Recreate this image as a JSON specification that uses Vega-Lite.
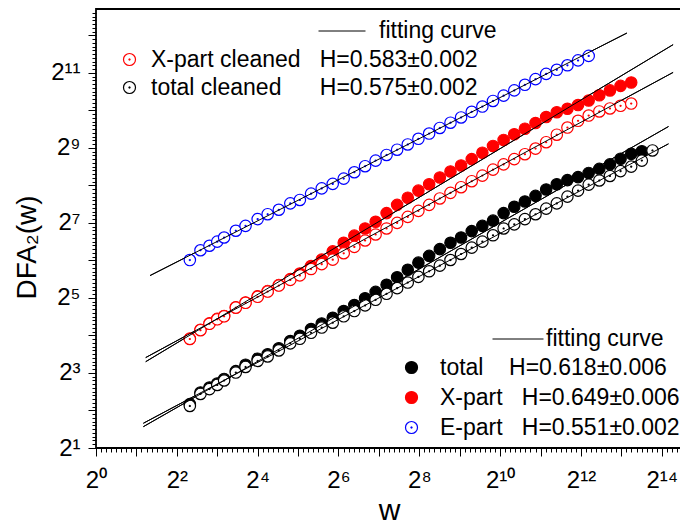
{
  "$schema": "https://vega.github.io/schema/vega-lite/v6.json",
  "width": 586,
  "height": 439,
  "autosize": {"type": "none"},
  "padding": {"left": 96, "top": 9, "right": 0, "bottom": 77},
  "background": "white",
  "config": {
    "font": "Liberation Sans",
    "view": {"stroke": "black", "strokeWidth": 1.8},
    "axis": {"labelFont": "Liberation Sans", "titleFont": "Liberation Sans", "labelColor": "black", "titleColor": "black", "tickColor": "black", "tickWidth": 1, "grid": false, "domain": false, "labelOverlap": false, "labelFlush": false, "labelBound": false, "titleFontWeight": "normal"},
    "legend": {"labelFont": "Liberation Sans", "labelFontSize": 23, "labelColor": "black", "labelLimit": 600, "padding": 0, "direction": "vertical"}
  },
  "datasets": {
    "points": [
      {"series": "total", "w": 5, "F": 4.50}, {"series": "total", "w": 6, "F": 5.58}, {"series": "total", "w": 7, "F": 6.11}, {"series": "total", "w": 8, "F": 6.59}, {"series": "total", "w": 9, "F": 7.16}, {"series": "total", "w": 11, "F": 8.28}, {"series": "total", "w": 13, "F": 9.32}, {"series": "total", "w": 16, "F": 10.41}, {"series": "total", "w": 19, "F": 11.31}, {"series": "total", "w": 23, "F": 12.64}, {"series": "total", "w": 28, "F": 14.42}, {"series": "total", "w": 33, "F": 15.89}, {"series": "total", "w": 40, "F": 18.00}, {"series": "total", "w": 48, "F": 19.97}, {"series": "total", "w": 58, "F": 22.16}, {"series": "total", "w": 70, "F": 25.11}, {"series": "total", "w": 84, "F": 28.05}, {"series": "total", "w": 101, "F": 31.78}, {"series": "total", "w": 121, "F": 35.75}, {"series": "total", "w": 146, "F": 40.79}, {"series": "total", "w": 175, "F": 46.85}, {"series": "total", "w": 210, "F": 53.82}, {"series": "total", "w": 252, "F": 61.39}, {"series": "total", "w": 303, "F": 69.55}, {"series": "total", "w": 364, "F": 78.79}, {"series": "total", "w": 437, "F": 88.65}, {"series": "total", "w": 524, "F": 97.68}, {"series": "total", "w": 629, "F": 109.9}, {"series": "total", "w": 755, "F": 121.1}, {"series": "total", "w": 906, "F": 133.4}, {"series": "total", "w": 1087, "F": 153.3}, {"series": "total", "w": 1305, "F": 172.4}, {"series": "total", "w": 1566, "F": 190.0}, {"series": "total", "w": 1879, "F": 210.8}, {"series": "total", "w": 2255, "F": 237.2}, {"series": "total", "w": 2706, "F": 261.4}, {"series": "total", "w": 3247, "F": 282.1}, {"series": "total", "w": 3897, "F": 298.2}, {"series": "total", "w": 4676, "F": 321.8}, {"series": "total", "w": 5611, "F": 347.3}, {"series": "total", "w": 6734, "F": 377.4}, {"series": "total", "w": 8080, "F": 418.8}, {"series": "total", "w": 9696, "F": 458.3}, {"series": "total", "w": 11636, "F": 481.0},
      {"series": "total cleaned", "w": 5, "F": 4.35}, {"series": "total cleaned", "w": 6, "F": 5.43}, {"series": "total cleaned", "w": 7, "F": 5.94}, {"series": "total cleaned", "w": 8, "F": 6.41}, {"series": "total cleaned", "w": 9, "F": 6.96}, {"series": "total cleaned", "w": 11, "F": 8.06}, {"series": "total cleaned", "w": 13, "F": 8.94}, {"series": "total cleaned", "w": 16, "F": 9.99}, {"series": "total cleaned", "w": 19, "F": 10.85}, {"series": "total cleaned", "w": 23, "F": 12.13}, {"series": "total cleaned", "w": 28, "F": 13.83}, {"series": "total cleaned", "w": 33, "F": 15.03}, {"series": "total cleaned", "w": 40, "F": 16.80}, {"series": "total cleaned", "w": 48, "F": 18.51}, {"series": "total cleaned", "w": 58, "F": 20.25}, {"series": "total cleaned", "w": 70, "F": 22.78}, {"series": "total cleaned", "w": 84, "F": 25.11}, {"series": "total cleaned", "w": 101, "F": 27.86}, {"series": "total cleaned", "w": 121, "F": 30.91}, {"series": "total cleaned", "w": 146, "F": 34.53}, {"series": "total cleaned", "w": 175, "F": 38.32}, {"series": "total cleaned", "w": 210, "F": 42.52}, {"series": "total cleaned", "w": 252, "F": 47.18}, {"series": "total cleaned", "w": 303, "F": 52.35}, {"series": "total cleaned", "w": 364, "F": 58.08}, {"series": "total cleaned", "w": 437, "F": 64.45}, {"series": "total cleaned", "w": 524, "F": 72.01}, {"series": "total cleaned", "w": 629, "F": 81.01}, {"series": "total cleaned", "w": 755, "F": 90.51}, {"series": "total cleaned", "w": 906, "F": 101.8}, {"series": "total cleaned", "w": 1087, "F": 115.4}, {"series": "total cleaned", "w": 1305, "F": 124.5}, {"series": "total cleaned", "w": 1566, "F": 137.2}, {"series": "total cleaned", "w": 1879, "F": 150.1}, {"series": "total cleaned", "w": 2255, "F": 166.6}, {"series": "total cleaned", "w": 2706, "F": 183.6}, {"series": "total cleaned", "w": 3247, "F": 207.9}, {"series": "total cleaned", "w": 3897, "F": 232.3}, {"series": "total cleaned", "w": 4676, "F": 259.6}, {"series": "total cleaned", "w": 5611, "F": 280.1}, {"series": "total cleaned", "w": 6734, "F": 304.4}, {"series": "total cleaned", "w": 8080, "F": 333.1}, {"series": "total cleaned", "w": 9696, "F": 362.0}, {"series": "total cleaned", "w": 11636, "F": 404.5}, {"series": "total cleaned", "w": 13963, "F": 487.8},
      {"series": "X-part", "w": 5, "F": 15.08}, {"series": "X-part", "w": 6, "F": 17.75}, {"series": "X-part", "w": 7, "F": 19.98}, {"series": "X-part", "w": 8, "F": 21.71}, {"series": "X-part", "w": 9, "F": 22.94}, {"series": "X-part", "w": 11, "F": 26.91}, {"series": "X-part", "w": 13, "F": 29.44}, {"series": "X-part", "w": 16, "F": 32.90}, {"series": "X-part", "w": 19, "F": 36.25}, {"series": "X-part", "w": 23, "F": 40.50}, {"series": "X-part", "w": 28, "F": 45.25}, {"series": "X-part", "w": 33, "F": 50.21}, {"series": "X-part", "w": 40, "F": 57.68}, {"series": "X-part", "w": 48, "F": 64.90}, {"series": "X-part", "w": 58, "F": 75.58}, {"series": "X-part", "w": 70, "F": 88.65}, {"series": "X-part", "w": 84, "F": 101.1}, {"series": "X-part", "w": 101, "F": 115.4}, {"series": "X-part", "w": 121, "F": 130.7}, {"series": "X-part", "w": 146, "F": 153.3}, {"series": "X-part", "w": 175, "F": 178.5}, {"series": "X-part", "w": 210, "F": 203.7}, {"series": "X-part", "w": 252, "F": 232.3}, {"series": "X-part", "w": 303, "F": 261.4}, {"series": "X-part", "w": 364, "F": 296.1}, {"series": "X-part", "w": 437, "F": 330.9}, {"series": "X-part", "w": 524, "F": 369.6}, {"series": "X-part", "w": 629, "F": 415.9}, {"series": "X-part", "w": 755, "F": 467.9}, {"series": "X-part", "w": 906, "F": 530.1}, {"series": "X-part", "w": 1087, "F": 592.2}, {"series": "X-part", "w": 1305, "F": 657.1}, {"series": "X-part", "w": 1566, "F": 729.1}, {"series": "X-part", "w": 1879, "F": 809.0}, {"series": "X-part", "w": 2255, "F": 903.9}, {"series": "X-part", "w": 2706, "F": 989.1}, {"series": "X-part", "w": 3247, "F": 1052.8}, {"series": "X-part", "w": 3897, "F": 1128.3}, {"series": "X-part", "w": 4676, "F": 1226.2}, {"series": "X-part", "w": 5611, "F": 1351.2}, {"series": "X-part", "w": 6734, "F": 1478.6}, {"series": "X-part", "w": 8080, "F": 1606.9}, {"series": "X-part", "w": 9696, "F": 1710.3},
      {"series": "X-part cleaned", "w": 5, "F": 14.98}, {"series": "X-part cleaned", "w": 6, "F": 17.63}, {"series": "X-part cleaned", "w": 7, "F": 19.84}, {"series": "X-part cleaned", "w": 8, "F": 21.56}, {"series": "X-part cleaned", "w": 9, "F": 22.78}, {"series": "X-part cleaned", "w": 11, "F": 26.72}, {"series": "X-part cleaned", "w": 13, "F": 29.24}, {"series": "X-part cleaned", "w": 16, "F": 32.67}, {"series": "X-part cleaned", "w": 19, "F": 36.00}, {"series": "X-part cleaned", "w": 23, "F": 40.22}, {"series": "X-part cleaned", "w": 28, "F": 44.63}, {"series": "X-part cleaned", "w": 33, "F": 48.50}, {"series": "X-part cleaned", "w": 40, "F": 54.57}, {"series": "X-part cleaned", "w": 48, "F": 59.72}, {"series": "X-part cleaned", "w": 58, "F": 64.90}, {"series": "X-part cleaned", "w": 70, "F": 73.01}, {"series": "X-part cleaned", "w": 84, "F": 82.14}, {"series": "X-part cleaned", "w": 101, "F": 92.41}, {"series": "X-part cleaned", "w": 121, "F": 103.3}, {"series": "X-part cleaned", "w": 146, "F": 115.4}, {"series": "X-part cleaned", "w": 175, "F": 128.0}, {"series": "X-part cleaned", "w": 210, "F": 143.0}, {"series": "X-part cleaned", "w": 252, "F": 159.8}, {"series": "X-part cleaned", "w": 303, "F": 178.5}, {"series": "X-part cleaned", "w": 364, "F": 200.9}, {"series": "X-part cleaned", "w": 437, "F": 222.9}, {"series": "X-part cleaned", "w": 524, "F": 247.3}, {"series": "X-part cleaned", "w": 629, "F": 276.3}, {"series": "X-part cleaned", "w": 755, "F": 306.6}, {"series": "X-part cleaned", "w": 906, "F": 342.5}, {"series": "X-part cleaned", "w": 1087, "F": 377.4}, {"series": "X-part cleaned", "w": 1305, "F": 415.9}, {"series": "X-part cleaned", "w": 1566, "F": 455.1}, {"series": "X-part cleaned", "w": 1879, "F": 505.0}, {"series": "X-part cleaned", "w": 2255, "F": 568.1}, {"series": "X-part cleaned", "w": 2706, "F": 652.6}, {"series": "X-part cleaned", "w": 3247, "F": 744.5}, {"series": "X-part cleaned", "w": 3897, "F": 843.4}, {"series": "X-part cleaned", "w": 4676, "F": 929.3}, {"series": "X-part cleaned", "w": 5611, "F": 1002.9}, {"series": "X-part cleaned", "w": 6734, "F": 1060.1}, {"series": "X-part cleaned", "w": 8080, "F": 1112.8}, {"series": "X-part cleaned", "w": 9696, "F": 1160.1},
      {"series": "E-part", "w": 5, "F": 64.4}, {"series": "E-part", "w": 6, "F": 77.2}, {"series": "E-part", "w": 7, "F": 83.9}, {"series": "E-part", "w": 8, "F": 90.5}, {"series": "E-part", "w": 9, "F": 97.7}, {"series": "E-part", "w": 11, "F": 110.7}, {"series": "E-part", "w": 13, "F": 121.1}, {"series": "E-part", "w": 16, "F": 137.2}, {"series": "E-part", "w": 19, "F": 150.2}, {"series": "E-part", "w": 23, "F": 163.1}, {"series": "E-part", "w": 28, "F": 183.5}, {"series": "E-part", "w": 33, "F": 195.4}, {"series": "E-part", "w": 40, "F": 219.8}, {"series": "E-part", "w": 48, "F": 242.2}, {"series": "E-part", "w": 58, "F": 263.2}, {"series": "E-part", "w": 70, "F": 290.1}, {"series": "E-part", "w": 84, "F": 326.2}, {"series": "E-part", "w": 101, "F": 364.5}, {"series": "E-part", "w": 121, "F": 404.5}, {"series": "E-part", "w": 146, "F": 448.8}, {"series": "E-part", "w": 175, "F": 494.6}, {"series": "E-part", "w": 210, "F": 545.0}, {"series": "E-part", "w": 252, "F": 604.7}, {"series": "E-part", "w": 303, "F": 666.6}, {"series": "E-part", "w": 364, "F": 739.3}, {"series": "E-part", "w": 437, "F": 814.6}, {"series": "E-part", "w": 524, "F": 897.5}, {"series": "E-part", "w": 629, "F": 996.4}, {"series": "E-part", "w": 755, "F": 1097.7}, {"series": "E-part", "w": 906, "F": 1217.5}, {"series": "E-part", "w": 1087, "F": 1342.5}, {"series": "E-part", "w": 1305, "F": 1478.7}, {"series": "E-part", "w": 1566, "F": 1640.4}, {"series": "E-part", "w": 1879, "F": 1820.7}, {"series": "E-part", "w": 2255, "F": 2006}, {"series": "E-part", "w": 2706, "F": 2164.7}, {"series": "E-part", "w": 3247, "F": 2353}, {"series": "E-part", "w": 3897, "F": 2574}, {"series": "E-part", "w": 4676, "F": 2798}
    ],
    "fits": [
      {"fit": "X-part cleaned", "group": "cleaned", "w": 2.346, "F": 10.63}, {"fit": "X-part cleaned", "group": "cleaned", "w": 19893, "F": 2062.3},
      {"fit": "total cleaned", "group": "cleaned", "w": 2.252, "F": 3.158}, {"fit": "total cleaned", "group": "cleaned", "w": 18382, "F": 551.4},
      {"fit": "total", "group": "main", "w": 2.252, "F": 2.965}, {"fit": "total", "group": "main", "w": 18382, "F": 759.0},
      {"fit": "X-part", "group": "main", "w": 2.346, "F": 9.849}, {"fit": "X-part", "group": "main", "w": 19893, "F": 3444.3},
      {"fit": "E-part", "group": "main", "w": 2.526, "F": 48.34}, {"fit": "E-part", "group": "main", "w": 9002, "F": 4267}
    ]
  },
  "encoding": {
    "x": {
      "field": "w", "type": "quantitative",
      "scale": {"type": "log", "base": 2, "domain": [1, 23170], "nice": false},
      "axis": {
        "title": "w", "titleFontSize": 30, "titlePadding": 3,
        "labelFontSize": 24, "labelPadding": 12,
        "values": [1, 1.0905, 1.1892, 1.2968, 1.4142, 1.5422, 1.6818, 1.834, 2, 2.181, 2.3784, 2.5937, 2.8284, 3.0844, 3.3636, 3.668, 4, 4.362, 4.7568, 5.1874, 5.6569, 6.1688, 6.7272, 7.336, 8, 8.724, 9.5137, 10.375, 11.314, 12.338, 13.454, 14.672, 16, 17.448, 19.027, 20.749, 22.627, 24.675, 26.909, 29.344, 32, 34.896, 38.055, 41.499, 45.255, 49.35, 53.817, 58.688, 64, 69.792, 76.109, 82.998, 90.51, 98.701, 107.63, 117.38, 128, 139.58, 152.22, 166.0, 181.02, 197.4, 215.27, 234.75, 256, 279.17, 304.44, 331.99, 362.04, 394.8, 430.54, 469.5, 512, 558.34, 608.87, 663.98, 724.08, 789.61, 861.08, 939.0, 1024, 1116.7, 1217.7, 1328.0, 1448.2, 1579.2, 1722.2, 1878.0, 2048, 2233.3, 2435.5, 2655.9, 2896.3, 3158.4, 3444.3, 3756.0, 4096, 4466.7, 4871.0, 5311.9, 5792.6, 6316.9, 6888.6, 7512.1, 8192, 8933.4, 9741.9, 10623.7, 11585.2, 12633.7, 13777.2, 15024.1, 16384, 17866.8, 19483.8, 21247.5],
        "labelExpr": "datum.value==1?'2⁰':datum.value==4?'2²':datum.value==16?'2⁴':datum.value==64?'2⁶':datum.value==256?'2⁸':datum.value==1024?'2¹⁰':datum.value==4096?'2¹²':datum.value==16384?'2¹⁴':''",
        "tickSize": {"condition": {"test": "abs(log(datum.value)/LN2 - round(log(datum.value)/LN2)) < 0.001", "value": 8}, "value": 4}
      }
    },
    "y": {
      "field": "F", "type": "quantitative",
      "scale": {"type": "log", "base": 2, "domain": [2, 6654], "nice": false},
      "axis": {
        "title": "DFA₂(w)", "titleFontSize": 28, "titlePadding": 9, "titleY": 238,
        "labelFontSize": 24, "labelPadding": 8,
        "values": [2, 2.1435, 2.2974, 2.4623, 2.639, 2.8284, 3.0314, 3.249, 3.4822, 3.7321, 4, 4.287, 4.5948, 4.9246, 5.278, 5.6569, 6.0629, 6.498, 6.9644, 7.4643, 8, 8.5742, 9.1896, 9.8492, 10.556, 11.314, 12.126, 12.996, 13.929, 14.929, 16, 17.148, 18.379, 19.698, 21.112, 22.627, 24.251, 25.992, 27.858, 29.857, 32, 34.297, 36.758, 39.397, 42.224, 45.255, 48.503, 51.984, 55.715, 59.714, 64, 68.594, 73.517, 78.793, 84.449, 90.51, 97.006, 103.97, 111.43, 119.43, 128, 137.19, 147.03, 157.59, 168.9, 181.02, 194.01, 207.94, 222.86, 238.86, 256, 274.38, 294.07, 315.17, 337.8, 362.04, 388.02, 415.87, 445.72, 477.71, 512, 548.75, 588.13, 630.35, 675.59, 724.08, 776.05, 831.74, 891.44, 955.43, 1024, 1097.5, 1176.3, 1260.7, 1351.2, 1448.2, 1552.1, 1663.5, 1782.9, 1910.9, 2048, 2195.0, 2352.5, 2521.4, 2702.4, 2896.3, 3104.2, 3327.0, 3565.8, 3821.7, 4096, 4390.0, 4705.0, 5042.8, 5404.7, 5792.6, 6208.4],
        "labelExpr": "datum.value==2?'2¹':datum.value==8?'2³':datum.value==32?'2⁵':datum.value==128?'2⁷':datum.value==512?'2⁹':datum.value==2048?'2¹¹':''",
        "tickSize": {"condition": {"test": "abs(log(datum.value)/LN2 - round(log(datum.value)/LN2)) < 0.001", "value": 8}, "value": 4}
      }
    }
  },
  "layer": [
    {
      "data": {"name": "fits"},
      "transform": [{"filter": {"field": "group", "equal": "cleaned"}}],
      "mark": {"type": "line", "strokeWidth": 1},
      "encoding": {
        "detail": {"field": "fit"},
        "stroke": {"datum": "fitting curve", "scale": {"range": ["black"]}, "legend": {"orient": "none", "legendX": 222, "legendY": -2, "title": null, "symbolType": "stroke", "symbolSize": 2209, "symbolStrokeWidth": 1, "labelOffset": 13}}
      }
    },
    {
      "data": {"name": "fits"},
      "transform": [{"filter": {"field": "group", "equal": "main"}}],
      "mark": {"type": "line", "strokeWidth": 1},
      "encoding": {
        "detail": {"field": "fit"},
        "stroke": {"datum": "fitting curve", "scale": {"range": ["black"]}, "legend": {"orient": "none", "legendX": 396, "legendY": 304, "title": null, "symbolType": "stroke", "symbolSize": 2601, "symbolStrokeWidth": 1, "labelOffset": 2}}
      }
    },
    {
      "data": {"name": "points"},
      "transform": [{"filter": {"field": "series", "oneOf": ["total", "X-part", "E-part"]}}],
      "mark": {"type": "point", "size": 130, "strokeWidth": 1.2, "opacity": 1, "filled": true},
      "encoding": {
        "shape": {"field": "series", "type": "nominal", "scale": {"domain": ["total", "X-part", "E-part"], "range": ["circle", "circle", "M-1,0A1,1,0,1,1,1,0A1,1,0,1,1,-1,0ZM-0.09,0A0.09,0.09,0,1,1,0.09,0A0.09,0.09,0,1,1,-0.09,0Z"]}, "legend": {"orient": "none", "legendX": 304, "legendY": 347, "title": null, "symbolSize": 144, "symbolStrokeWidth": 1.2, "labelOffset": 17, "rowPadding": 6, "labelExpr": "datum.label=='total' ? 'total\u00a0\u00a0\u00a0\u00a0H=0.618±0.006' : datum.label=='X-part' ? 'X-part\u00a0\u00a0\u00a0H=0.649±0.006' : 'E-part\u00a0\u00a0\u00a0H=0.551±0.002'"}},
        "fill": {"field": "series", "type": "nominal", "scale": {"domain": ["total", "X-part", "E-part"], "range": ["black", "red", "white"]}, "legend": {"orient": "none", "legendX": 304, "legendY": 347, "title": null, "symbolSize": 144, "symbolStrokeWidth": 1.2, "labelOffset": 17, "rowPadding": 6, "labelExpr": "datum.label=='total' ? 'total\u00a0\u00a0\u00a0\u00a0H=0.618±0.006' : datum.label=='X-part' ? 'X-part\u00a0\u00a0\u00a0H=0.649±0.006' : 'E-part\u00a0\u00a0\u00a0H=0.551±0.002'"}},
        "stroke": {"field": "series", "type": "nominal", "scale": {"domain": ["total", "X-part", "E-part"], "range": ["black", "red", "blue"]}, "legend": {"orient": "none", "legendX": 304, "legendY": 347, "title": null, "symbolSize": 144, "symbolStrokeWidth": 1.2, "labelOffset": 17, "rowPadding": 6, "labelExpr": "datum.label=='total' ? 'total\u00a0\u00a0\u00a0\u00a0H=0.618±0.006' : datum.label=='X-part' ? 'X-part\u00a0\u00a0\u00a0H=0.649±0.006' : 'E-part\u00a0\u00a0\u00a0H=0.551±0.002'"}}
      }
    },
    {
      "data": {"name": "points"},
      "transform": [{"filter": {"field": "series", "oneOf": ["X-part cleaned", "total cleaned"]}}],
      "mark": {"type": "point", "size": 130, "strokeWidth": 1.2, "opacity": 1, "filled": true},
      "encoding": {
        "shape": {"field": "series", "type": "nominal", "scale": {"domain": ["X-part cleaned", "total cleaned"], "range": ["M-1,0A1,1,0,1,1,1,0A1,1,0,1,1,-1,0ZM-0.09,0A0.09,0.09,0,1,1,0.09,0A0.09,0.09,0,1,1,-0.09,0Z", "M-1,0A1,1,0,1,1,1,0A1,1,0,1,1,-1,0ZM-0.09,0A0.09,0.09,0,1,1,0.09,0A0.09,0.09,0,1,1,-0.09,0Z"]}, "legend": {"orient": "none", "legendX": 22, "legendY": 39, "title": null, "symbolSize": 144, "symbolStrokeWidth": 1.2, "labelOffset": 10, "rowPadding": 4, "labelExpr": "datum.label=='X-part cleaned' ? 'X-part cleaned\u00a0\u00a0\u00a0H=0.583±0.002' : 'total cleaned\u00a0\u00a0\u00a0\u00a0\u00a0\u00a0H=0.575±0.002'"}},
        "fill": {"field": "series", "type": "nominal", "scale": {"domain": ["X-part cleaned", "total cleaned"], "range": ["white", "white"]}, "legend": {"orient": "none", "legendX": 22, "legendY": 39, "title": null, "symbolSize": 144, "symbolStrokeWidth": 1.2, "labelOffset": 10, "rowPadding": 4, "labelExpr": "datum.label=='X-part cleaned' ? 'X-part cleaned\u00a0\u00a0\u00a0H=0.583±0.002' : 'total cleaned\u00a0\u00a0\u00a0\u00a0\u00a0\u00a0H=0.575±0.002'"}},
        "stroke": {"field": "series", "type": "nominal", "scale": {"domain": ["X-part cleaned", "total cleaned"], "range": ["red", "black"]}, "legend": {"orient": "none", "legendX": 22, "legendY": 39, "title": null, "symbolSize": 144, "symbolStrokeWidth": 1.2, "labelOffset": 10, "rowPadding": 4, "labelExpr": "datum.label=='X-part cleaned' ? 'X-part cleaned\u00a0\u00a0\u00a0H=0.583±0.002' : 'total cleaned\u00a0\u00a0\u00a0\u00a0\u00a0\u00a0H=0.575±0.002'"}}
      }
    },
    {
      "data": {"name": "fits"},
      "mark": {"type": "line", "strokeWidth": 1, "stroke": "black"},
      "encoding": {"detail": {"field": "fit"}}
    }
  ],
  "resolve": {"scale": {"stroke": "independent", "fill": "independent", "shape": "independent"}}
}
